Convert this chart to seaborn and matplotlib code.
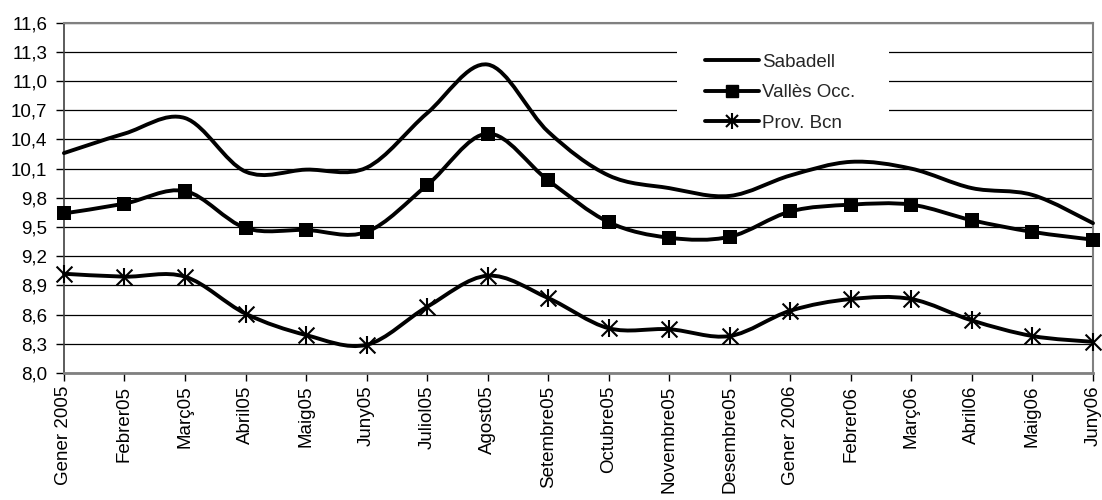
import numpy as np
import pandas as pd
import seaborn as sns
import matplotlib
matplotlib.use("Agg")
import matplotlib.pyplot as plt
from matplotlib.path import Path
from matplotlib.patches import PathPatch, Rectangle
from matplotlib.lines import Line2D
from matplotlib.legend_handler import HandlerTuple
from matplotlib.ticker import FuncFormatter

months = ["Gener 2005", "Febrer05", "Març05", "Abril05", "Maig05", "Juny05",
          "Juliol05", "Agost05", "Setembre05", "Octubre05", "Novembre05",
          "Desembre05", "Gener 2006", "Febrer06", "Març06", "Abril06",
          "Maig06", "Juny06"]
sabadell = [10.26, 10.46, 10.62, 10.07, 10.09, 10.11, 10.67, 11.17, 10.48,
            10.03, 9.90, 9.82, 10.03, 10.17, 10.10, 9.90, 9.83, 9.54]
valles = [9.64, 9.74, 9.87, 9.49, 9.47, 9.45, 9.93, 10.46, 9.98,
          9.55, 9.39, 9.40, 9.66, 9.73, 9.73, 9.57, 9.45, 9.37]
prov = [9.02, 8.99, 8.99, 8.61, 8.39, 8.29, 8.68, 9.00, 8.77,
        8.46, 8.45, 8.38, 8.64, 8.76, 8.76, 8.54, 8.38, 8.32]
series_names = ["Sabadell", "Vallès Occ.", "Prov. Bcn"]
yticks = [8.0, 8.3, 8.6, 8.9, 9.2, 9.5, 9.8, 10.1, 10.4, 10.7, 11.0, 11.3, 11.6]

sns.set_theme(style="white")
plt.rcParams["font.family"] = ["Liberation Sans", "DejaVu Sans"]

fig = plt.figure(figsize=(11.02, 5.0), dpi=100)
ax = fig.add_axes([0.058, 0.254, 0.9338, 0.7006])

x = np.arange(len(months))


def smooth_path(xs, ys):
    pts = np.column_stack([xs, ys]).astype(float)
    n = len(pts)
    verts = [pts[0]]
    codes = [Path.MOVETO]
    for i in range(n - 1):
        p0 = pts[i - 1] if i > 0 else pts[i]
        p1 = pts[i]
        p2 = pts[i + 1]
        p3 = pts[i + 2] if i + 2 < n else pts[i + 1]
        c1 = p1 + (p2 - p0) / 6.0
        c2 = p2 - (p3 - p1) / 6.0
        verts += [c1, c2, p2]
        codes += [Path.CURVE4] * 3
    return Path(verts, codes)


LW = 2.8
for vals in (sabadell, valles, prov):
    patch = PathPatch(smooth_path(x, vals), fill=False, lw=LW, ec="black",
                      capstyle="round", joinstyle="round", zorder=3, clip_on=False)
    ax.add_patch(patch)

df_v = pd.DataFrame({"x": x, "y": valles})
df_p = pd.DataFrame({"x": x, "y": prov})
sns.scatterplot(data=df_v, x="x", y="y", marker="s", s=95, color="black",
                linewidth=0, ax=ax, zorder=4, clip_on=False)
sns.scatterplot(data=df_p, x="x", y="y", marker="x", s=130, color="black",
                linewidth=1.5, ax=ax, zorder=4, clip_on=False)
sns.scatterplot(data=df_p, x="x", y="y", marker="|", s=170, color="black",
                linewidth=1.5, ax=ax, zorder=4, clip_on=False)

ax.set_xlim(0, len(months) - 1)
ax.set_ylim(8.0, 11.6)
ax.set_yticks(yticks)
ax.yaxis.set_major_formatter(FuncFormatter(lambda v, p: f"{v:.1f}".replace(".", ",")))
ax.set_xticks(x)
ax.set_xticklabels(months, rotation=90, ha="center", va="top")
ax.set_xlabel("")
ax.set_ylabel("")

ax.yaxis.grid(True, color="black", lw=0.9)
ax.xaxis.grid(False)
ax.set_axisbelow(True)

for side in ("top", "right"):
    ax.spines[side].set_color("#808080")
    ax.spines[side].set_linewidth(1.5)
ax.spines["bottom"].set_color("#808080")
ax.spines["bottom"].set_linewidth(2.0)
ax.spines["left"].set_color("#404040")
ax.spines["left"].set_linewidth(1.2)

ax.tick_params(axis="y", which="major", direction="out", length=6, width=1,
               color="black", labelsize=13.5, labelcolor="black", pad=6, left=True)
ax.tick_params(axis="x", which="major", direction="out", length=6, width=1,
               color="black", labelsize=13.5, labelcolor="black", pad=3, bottom=True)

# white area behind the legend (hides the gridlines there)
ax.add_patch(Rectangle((0.5957, 0.688), 0.206, 0.2626, transform=ax.transAxes,
                       facecolor="white", edgecolor="none", zorder=1))

h1 = Line2D([], [], color="black", lw=LW)
h2 = Line2D([], [], color="black", lw=LW, marker="s", markersize=9)
h3a = Line2D([], [], color="black", lw=LW, marker="x", markersize=9, markeredgewidth=1.5)
h3b = Line2D([], [], color="black", lw=0, marker="|", markersize=11, markeredgewidth=1.5)
leg = ax.legend([h1, h2, (h3a, h3b)], series_names,
                handler_map={tuple: HandlerTuple(ndivide=1)},
                loc="upper left", bbox_to_anchor=(0.6229, 0.911),
                borderaxespad=0, frameon=False, fontsize=13.5,
                handlelength=2.9, handletextpad=0.15, labelspacing=0.7,
                borderpad=0.0)
leg.set_zorder(5)

fig.savefig("out.png", dpi=100)
